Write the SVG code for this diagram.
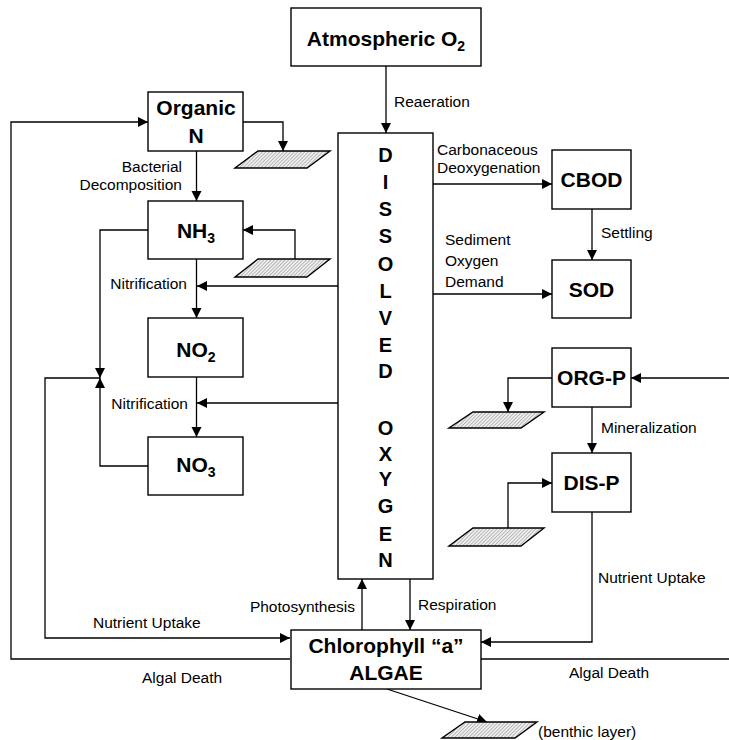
<svg xmlns="http://www.w3.org/2000/svg" width="729" height="740" viewBox="0 0 729 740">
<style>
.box{fill:#fff;stroke:#000;stroke-width:1.4}
.bt{font-family:"Liberation Sans",Arial,sans-serif;font-weight:bold;font-size:21px;fill:#000;text-anchor:middle}
.dl{font-size:20px}
.lb{font-family:"Liberation Sans",Arial,sans-serif;font-size:15.5px;fill:#000}
.e{text-anchor:end}
.c{fill:none;stroke:#000;stroke-width:1.3}
.a{marker-end:url(#arr)}
.par{fill:url(#hatch);stroke:#000;stroke-width:1.4}
</style>
<defs>
<marker id="arr" markerUnits="userSpaceOnUse" markerWidth="11" markerHeight="11" refX="10" refY="5" orient="auto">
<path d="M0,0 L10,5 L0,10 z" fill="#000"/>
</marker>
<pattern id="hatch" width="2.5" height="2.5" patternUnits="userSpaceOnUse" patternTransform="rotate(45)">
<rect width="2.5" height="2.5" fill="#f2f2f2"/>
<line x1="0.5" y1="0" x2="0.5" y2="2.5" stroke="#a6a6a6" stroke-width="0.8"/>
</pattern>
</defs>
<rect width="729" height="740" fill="#fff"/>

<g id="connectors">
<path class="c a" d="M386,66 V133"/>
<path class="c a" d="M290,659 H11 V122 H148"/>
<path class="c" d="M481,659 H729"/>
<path class="c a" d="M729,378 H631"/>
<path class="c a" d="M243,122 H283 V151"/>
<path class="c a" d="M196.5,151 V201"/>
<path class="c a" d="M295,259 V230 H243"/>
<path class="c a" d="M148,230 H100 V378"/>
<path class="c a" d="M148,466 H100 V378"/>
<path class="c a" d="M100,378 H45 V638 H290"/>
<path class="c a" d="M196.5,259 V318"/>
<path class="c a" d="M338,286 H197"/>
<path class="c a" d="M196.5,377 V437"/>
<path class="c a" d="M338,403 H197"/>
<path class="c a" d="M433,184 H552"/>
<path class="c a" d="M592,209 V260"/>
<path class="c a" d="M433,294 H552"/>
<path class="c a" d="M552,378 H508 V412"/>
<path class="c a" d="M592,407 V453"/>
<path class="c a" d="M508,528 V483 H552"/>
<path class="c a" d="M592,512 V642 H481"/>
<path class="c a" d="M362,630 V579"/>
<path class="c a" d="M410,579 V630"/>
<path class="c a" d="M387,689 L487,722"/>
</g>

<g id="labels">
<text class="lb" x="394" y="107">Reaeration</text>
<text class="lb" x="437" y="155">Carbonaceous</text>
<text class="lb" x="437" y="173">Deoxygenation</text>
<text class="lb" x="601" y="238">Settling</text>
<text class="lb" x="445" y="245">Sediment</text>
<text class="lb" x="445" y="266">Oxygen</text>
<text class="lb" x="445" y="287">Demand</text>
<text class="lb e" x="182" y="172">Bacterial</text>
<text class="lb e" x="182" y="190">Decomposition</text>
<text class="lb e" x="187" y="289">Nitrification</text>
<text class="lb e" x="188" y="409">Nitrification</text>
<text class="lb" x="601" y="433">Mineralization</text>
<text class="lb" x="598" y="583">Nutrient Uptake</text>
<text class="lb e" x="355" y="612">Photosynthesis</text>
<text class="lb" x="418" y="610">Respiration</text>
<text class="lb" x="93" y="628">Nutrient Uptake</text>
<text class="lb" x="142" y="683">Algal Death</text>
<text class="lb" x="569" y="678">Algal Death</text>
<text class="lb" x="538" y="737">(benthic layer)</text>
</g>

<g id="sediment-layers">
<polygon class="par" points="258,151 330,151 307,168 235,168"/>
<polygon class="par" points="258,259 330,259 307,277 235,277"/>
<polygon class="par" points="473,412 544,412 521,428 449,428"/>
<polygon class="par" points="473,528 544,528 521,546 449,546"/>
<polygon class="par" points="465,722 537,722 515,738 442,738"/>
</g>

<g id="atmospheric-o2">
<rect class="box" x="291" y="8" width="190" height="58"/>
<text class="bt" x="386" y="46">Atmospheric O<tspan font-size="14" dy="5">2</tspan></text>
</g>

<g id="dissolved-oxygen">
<rect class="box" x="338" y="133" width="95" height="446"/>
<text class="bt dl" x="385.5" y="162">D</text>
<text class="bt dl" x="385.5" y="189">I</text>
<text class="bt dl" x="385.5" y="216">S</text>
<text class="bt dl" x="385.5" y="243">S</text>
<text class="bt dl" x="385.5" y="271">O</text>
<text class="bt dl" x="385.5" y="298">L</text>
<text class="bt dl" x="385.5" y="325">V</text>
<text class="bt dl" x="385.5" y="352">E</text>
<text class="bt dl" x="385.5" y="378">D</text>
<text class="bt dl" x="385.5" y="435">O</text>
<text class="bt dl" x="385.5" y="461">X</text>
<text class="bt dl" x="385.5" y="486">Y</text>
<text class="bt dl" x="385.5" y="513">G</text>
<text class="bt dl" x="385.5" y="541">E</text>
<text class="bt dl" x="385.5" y="567">N</text>
</g>

<g id="organic-n">
<rect class="box" x="148" y="92" width="95" height="59"/>
<text class="bt" x="196" y="115">Organic</text>
<text class="bt" x="196" y="143">N</text>
</g>

<g id="nh3">
<rect class="box" x="148" y="201" width="95" height="58"/>
<text class="bt" x="196" y="238">NH<tspan font-size="14" dy="5">3</tspan></text>
</g>

<g id="no2">
<rect class="box" x="148" y="318" width="95" height="59"/>
<text class="bt" x="196" y="357">NO<tspan font-size="14" dy="5">2</tspan></text>
</g>

<g id="no3">
<rect class="box" x="148" y="437" width="95" height="58"/>
<text class="bt" x="196" y="472">NO<tspan font-size="14" dy="5">3</tspan></text>
</g>

<g id="cbod">
<rect class="box" x="552" y="150" width="79" height="59"/>
<text class="bt" x="591.5" y="187">CBOD</text>
</g>

<g id="sod">
<rect class="box" x="552" y="260" width="79" height="58"/>
<text class="bt" x="591.5" y="297">SOD</text>
</g>

<g id="org-p">
<rect class="box" x="552" y="348" width="79" height="59"/>
<text class="bt" x="591.5" y="385">ORG-P</text>
</g>

<g id="dis-p">
<rect class="box" x="552" y="453" width="79" height="59"/>
<text class="bt" x="591.5" y="490">DIS-P</text>
</g>

<g id="algae">
<rect class="box" x="291" y="630" width="190" height="59"/>
<text class="bt" x="386" y="653">Chlorophyll “a”</text>
<text class="bt" x="386" y="680">ALGAE</text>
</g>
</svg>
